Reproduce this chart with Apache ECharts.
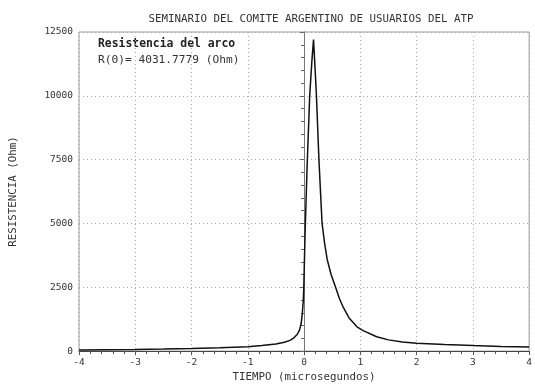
<!DOCTYPE html>
<html>
<head>
<meta charset="utf-8">
<script src="https://cdn.jsdelivr.net/npm/echarts@6/dist/echarts.min.js"></script>
<style>html,body{margin:0;padding:0;background:#fff;overflow:hidden}#c{width:535px;height:388px}</style>
</head>
<body>
<div id="c"></div>
<script>
// Data
const titleText = 'SEMINARIO DEL COMITE ARGENTINO DE USUARIOS DEL ATP';
const xName = 'TIEMPO (microsegundos)';
const yName = 'RESISTENCIA (Ohm)';
const noteLine1 = 'Resistencia del arco';
const noteLine2 = 'R(0)= 4031.7779 (Ohm)';
const xTicks = [-4, -3, -2, -1, 0, 1, 2, 3, 4];
const yTicks = [0, 2500, 5000, 7500, 10000, 12500];
const times = [-4, -3.5, -3, -2.5, -2, -1.5, -1, -0.75, -0.5, -0.35, -0.25, -0.18, -0.12, -0.08, -0.05, -0.03, -0.015, -0.005, 0.02, 0.055, 0.1, 0.14, 0.168, 0.19, 0.22, 0.264, 0.32, 0.364, 0.41, 0.48, 0.56, 0.63, 0.7, 0.8, 0.94, 1.05, 1.29, 1.5, 1.75, 2, 2.5, 3, 3.5, 4];
const resistance = [40, 50, 62, 78, 100, 130, 175, 215, 280, 350, 420, 520, 660, 830, 1100, 1500, 1950, 2500, 4800, 7300, 10000, 11400, 12200, 11300, 10000, 7500, 5000, 4240, 3600, 3000, 2500, 2050, 1700, 1300, 950, 800, 560, 440, 360, 310, 255, 215, 185, 165];

const series = times.map((t, i) => [t, resistance[i]]);
const mono = 'DejaVu Sans Mono';
const txt = '#333';

const chart = echarts.init(document.getElementById('c'));
chart.setOption({
  animation: false,
  backgroundColor: '#fff',
  title: {
    text: titleText,
    left: 306, top: 9, textAlign: 'center',
    textStyle: { fontFamily: mono, fontSize: 10.8, fontWeight: 'normal', color: txt }
  },
  grid: { left: 78, right: 1, top: 32, bottom: 30, show: true, borderColor: '#999', borderWidth: 1, backgroundColor: 'transparent' },
  xAxis: {
    type: 'value', min: xTicks[0], max: xTicks[xTicks.length - 1], interval: 1,
    name: xName, nameLocation: 'middle', nameGap: 20,
    nameTextStyle: { fontFamily: mono, fontSize: 10.8, color: txt },
    axisLine: { onZero: false, lineStyle: { color: '#444', width: 1 } },
    axisTick: { show: true, inside: false, length: 4, lineStyle: { color: '#555' } },
    minorTick: { show: true, splitNumber: 5, length: 3, lineStyle: { color: '#555' } },
    axisLabel: { fontFamily: mono, fontSize: 9.5, color: txt, margin: 6, formatter: v => String(v) },
    splitLine: { show: true, lineStyle: { color: '#aaa', type: [1, 3], width: 1 } }
  },
  yAxis: {
    type: 'value', min: yTicks[0], max: yTicks[yTicks.length - 1], interval: 2500,
    name: yName, nameLocation: 'middle', nameGap: 60, nameRotate: 90,
    nameTextStyle: { fontFamily: mono, fontSize: 10.8, color: txt },
    axisLine: { show: true, lineStyle: { color: '#777', width: 1 } },
    axisTick: { show: true, inside: false, length: 4, lineStyle: { color: '#666' } },
    minorTick: { show: true, splitNumber: 5, length: 3, lineStyle: { color: '#666' } },
    axisLabel: { fontFamily: mono, fontSize: 9.5, color: txt, margin: 6, formatter: v => String(v) },
    splitLine: { show: true, lineStyle: { color: '#aaa', type: [1, 3], width: 1 } }
  },
  graphic: [
    { type: 'text', left: 98, top: 39, style: { text: noteLine1, font: 'bold 11.4px "DejaVu Sans Mono"', fill: '#222' } },
    { type: 'text', left: 98, top: 55, style: { text: noteLine2, font: '11.2px "DejaVu Sans Mono"', fill: '#333' } }
  ],
  series: [{
    type: 'line', data: series, showSymbol: false, smooth: false,
    lineStyle: { color: '#111', width: 1.5 }
  }]
});
</script>
</body>
</html>
